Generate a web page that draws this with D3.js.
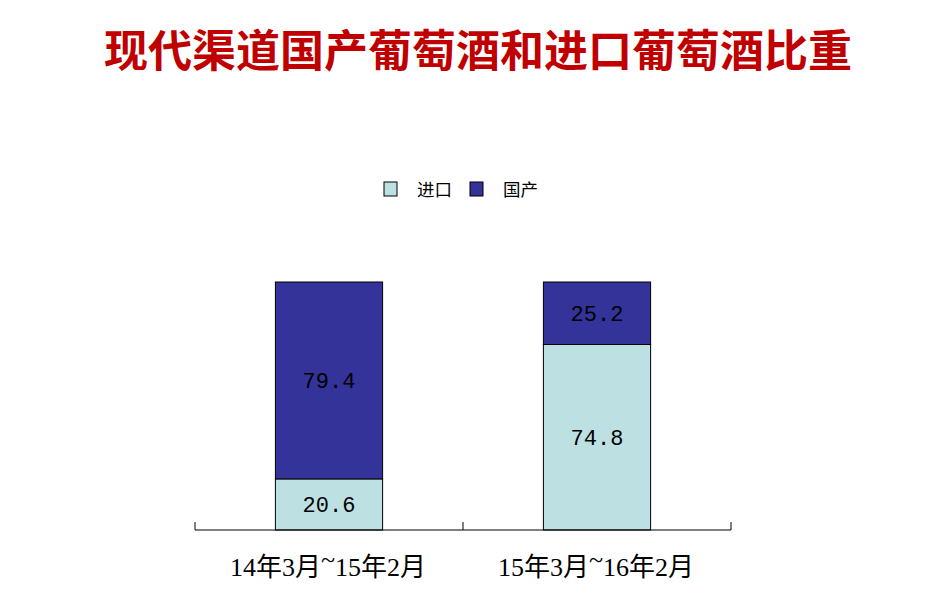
<!DOCTYPE html>
<html><head><meta charset="utf-8">
<script src="https://cdn.jsdelivr.net/npm/d3@7"></script>
<style>body{margin:0;background:#fff}</style>
</head><body>
<svg id="c" width="940" height="612"></svg>
<script>
const title = "现代渠道国产葡萄酒和进口葡萄酒比重";
const categories = ["14年3月~15年2月", "15年3月~16年2月"];
const seriesNames = ["进口", "国产"];
const importValues = [20.6, 74.8];
const domesticValues = [79.4, 25.2];
const colors = ["#BDE1E3", "#333399"];

const svg = d3.select("#c");
const plotLeft = 195, plotRight = 731, plotTop = 282, plotBottom = 530;

svg.append("text").attr("x", 478).attr("y", 67).attr("text-anchor", "middle")
  .attr("font-family", "Noto Sans CJK SC").attr("font-weight", "bold")
  .attr("font-size", 44).attr("fill", "#C00000").text(title);

const x = d3.scaleBand().domain(categories).range([plotLeft, plotRight]).paddingInner(0).paddingOuter(0);
const y = d3.scaleLinear().domain([0, 100]).range([plotBottom, plotTop]);
const bw = x.bandwidth() * 0.4;

const stackData = categories.map((c, i) => ({cat: c, "进口": importValues[i], "国产": domesticValues[i]}));
const stack = d3.stack().keys(seriesNames)(stackData);

stack.forEach((layer, li) => {
  const g = svg.append("g");
  layer.forEach(d => {
    const cx = x(d.data.cat) + x.bandwidth() / 2;
    g.append("rect").attr("x", cx - bw / 2).attr("y", y(d[1])).attr("width", bw)
      .attr("height", y(d[0]) - y(d[1])).attr("fill", colors[li])
      .attr("stroke", "#000").attr("stroke-width", 1);
    g.append("text").attr("x", cx).attr("y", (y(d[0]) + y(d[1])) / 2 + 8)
      .attr("text-anchor", "middle").attr("font-family", "Liberation Mono, monospace")
      .attr("font-size", 22).attr("fill", "#000").text((d[1] - d[0]).toFixed(1));
  });
});

const axisG = svg.append("g");
axisG.append("line").attr("x1", plotLeft).attr("x2", plotRight).attr("y1", plotBottom).attr("y2", plotBottom)
  .attr("stroke", "#000").attr("stroke-width", 1);
const tickPos = [plotLeft, ...categories.map(c => x(c) + x.bandwidth())];
tickPos.forEach(t => {
  axisG.append("line").attr("x1", t).attr("x2", t).attr("y1", plotBottom).attr("y2", plotBottom - 8)
    .attr("stroke", "#000").attr("stroke-width", 1);
});
categories.forEach(c => {
  const parts = c.split("~");
  const t = axisG.append("text").attr("x", x(c) + x.bandwidth() / 2 - 1).attr("y", 576)
    .attr("text-anchor", "middle").attr("font-family", "Liberation Serif, Noto Sans CJK SC")
    .attr("font-size", 26).attr("fill", "#000");
  t.append("tspan").text(parts[0]);
  t.append("tspan").attr("dy", -8).text("~");
  t.append("tspan").attr("dy", 8).text(parts[1]);
});

const legendX = [384, 470];
seriesNames.forEach((s, i) => {
  svg.append("rect").attr("x", legendX[i]).attr("y", 182).attr("width", 13).attr("height", 14)
    .attr("fill", colors[i]).attr("stroke", "#000").attr("stroke-width", 1);
  svg.append("text").attr("x", legendX[i] + 33).attr("y", 196)
    .attr("font-family", "Noto Sans CJK SC").attr("font-size", 17.5).attr("fill", "#000").text(s);
});
</script>
</body></html>
